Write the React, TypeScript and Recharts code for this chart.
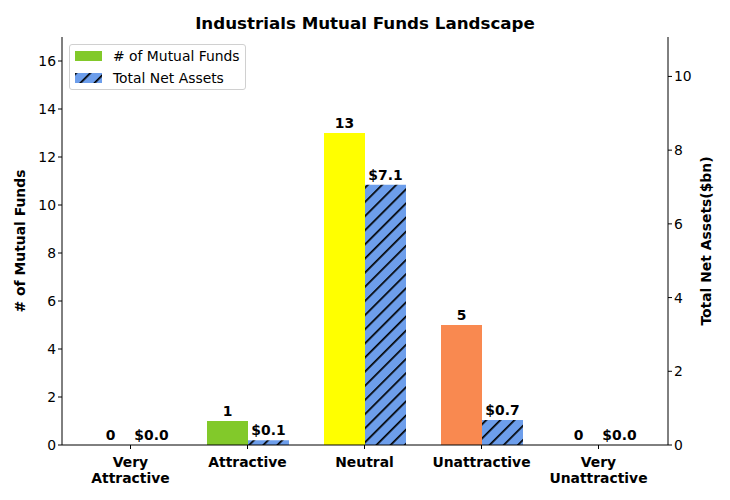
import React from 'react';
import { BarChart, Bar, XAxis, YAxis, Cell, LabelList, Legend } from 'recharts';

const categories = ['Very Attractive', 'Attractive', 'Neutral', 'Unattractive', 'Very Unattractive'];
const fundCounts = [0, 1, 13, 5, 0];
const netAssets = [0, 0.13, 7.06, 0.68, 0];
const fundColors = ['#2e8b57', '#82c92a', '#ffff00', '#f98950', '#d62728'];
const leftTicks = [0, 2, 4, 6, 8, 10, 12, 14, 16];
const rightTicks = [0, 2, 4, 6, 8, 10];

const data = categories.map((name, i) => ({
  name,
  funds: fundCounts[i],
  assets: netAssets[i],
}));

const FONT = '"DejaVu Sans", sans-serif';
const FS = 13.9;
const BLUE = '#6d9eeb';

const CategoryTick = (props: any) => {
  const { x, y, payload } = props;
  const words = String(payload.value).split(' ');
  return (
    <g transform={`translate(${x},${y})`}>
      {words.map((l: string, i: number) => (
        <text key={i} x={0} y={16 + i * 16} textAnchor="middle" fontSize={FS} fontWeight="bold" fill="#000" fontFamily={FONT}>
          {l}
        </text>
      ))}
    </g>
  );
};

const labelStyle = { fontSize: FS, fontWeight: 'bold', fill: '#000', fontFamily: FONT };

const LegendBox = () => (
  <div style={{
    background: '#fff', border: '1px solid #d0d0d0', borderRadius: 3, boxSizing: 'border-box',
    padding: '0 5px', fontFamily: FONT, fontSize: FS, color: '#000', width: 177, whiteSpace: 'nowrap',
  }}>
    <div style={{ display: 'flex', alignItems: 'center', height: 22 }}>
      <div style={{ width: 27, height: 10, background: fundColors[1], marginRight: 11, flexShrink: 0 }} />
      <span># of Mutual Funds</span>
    </div>
    <div style={{ display: 'flex', alignItems: 'center', height: 22 }}>
      <svg width={27} height={10} style={{ marginRight: 11, flexShrink: 0 }}>
        <rect width={27} height={10} fill="url(#hatch)" />
      </svg>
      <span>Total Net Assets</span>
    </div>
  </div>
);

export default function App() {
  return (
    <div style={{ position: 'absolute', left: 0, top: 0, width: 730, height: 500, background: '#fff' }}>
      <svg width={0} height={0} style={{ position: 'absolute' }}>
        <defs>
          <pattern id="hatch" width={10} height={10} patternUnits="userSpaceOnUse" patternTransform="rotate(45)">
            <rect width={10} height={10} fill={BLUE} />
            <line x1={0} y1={0} x2={0} y2={10} stroke="#000" strokeWidth={3.4} />
          </pattern>
        </defs>
      </svg>
      <div style={{
        position: 'absolute', left: 0, top: 13, width: 730, textAlign: 'center',
        fontFamily: FONT, fontSize: 16.7, fontWeight: 'bold', color: '#000',
      }}>
        Industrials Mutual Funds Landscape
      </div>
      <BarChart
        width={730}
        height={500}
        data={data}
        margin={{ top: 37, right: 0, bottom: 0, left: 0 }}
        barGap={0}
        barSize={41}
      >
        <XAxis
          dataKey="name"
          xAxisId="main"
          height={55}
          padding={{ left: 10, right: 11 }}
          axisLine={{ stroke: '#000' }}
          tickLine={{ stroke: '#000' }}
          tickSize={4}
          tickMargin={2}
          tick={<CategoryTick />}
          interval={0}
        />
        <XAxis xAxisId="top" orientation="top" dataKey="name" height={0} tick={false} tickLine={false} axisLine={{ stroke: '#000' }} />
        <YAxis
          yAxisId="left"
          width={62}
          domain={[0, 17]}
          ticks={leftTicks}
          allowDataOverflow
          axisLine={{ stroke: '#000' }}
          tickLine={{ stroke: '#000' }}
          tickSize={4}
          tick={{ fontSize: FS, fill: '#000', fontFamily: FONT }}
          label={{ value: '# of Mutual Funds', angle: -90, position: 'insideLeft', offset: 20, style: { ...labelStyle, textAnchor: 'middle' } }}
        />
        <YAxis
          yAxisId="right"
          orientation="right"
          width={62}
          domain={[0, 11.07]}
          ticks={rightTicks}
          allowDataOverflow
          axisLine={{ stroke: '#000' }}
          tickLine={{ stroke: '#000' }}
          tickSize={4}
          tick={{ fontSize: FS, fill: '#000', fontFamily: FONT }}
          label={{ value: 'Total Net Assets($bn)', angle: -90, position: 'insideRight', offset: 24, style: { ...labelStyle, textAnchor: 'middle' } }}
        />
        <Legend
          layout="horizontal"
          verticalAlign="middle"
          align="center"
          wrapperStyle={{ position: 'absolute', left: 69, top: 44, width: 177 }}
          content={() => <LegendBox />}
        />
        <Bar dataKey="funds" name="# of Mutual Funds" xAxisId="main" yAxisId="left" minPointSize={0.01} isAnimationActive={false}>
          {data.map((d, i) => (
            <Cell key={d.name} fill={fundColors[i]} />
          ))}
          <LabelList dataKey="funds" position="top" offset={5} style={labelStyle} />
        </Bar>
        <Bar dataKey="assets" name="Total Net Assets" xAxisId="main" yAxisId="right" fill="url(#hatch)" minPointSize={0.01} isAnimationActive={false}>
          <LabelList
            dataKey="assets"
            position="top"
            offset={5}
            formatter={(v: any) => `$${Number(v).toFixed(1)}`}
            style={labelStyle}
          />
        </Bar>
      </BarChart>
    </div>
  );
}
